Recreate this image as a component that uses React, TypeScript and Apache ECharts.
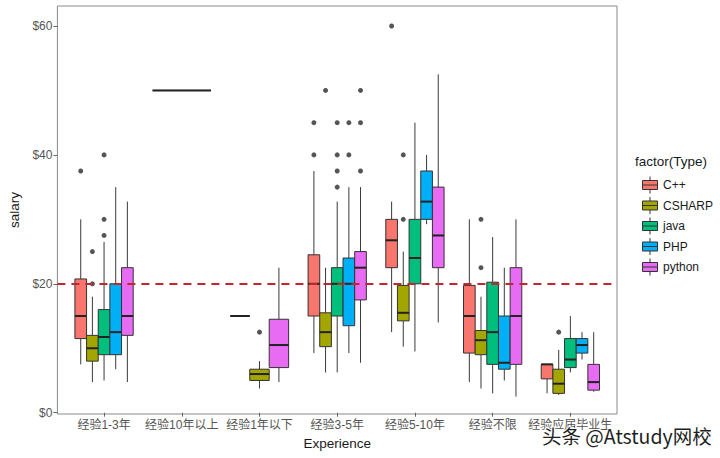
import React, { useEffect, useRef } from "react";
import * as echarts from "echarts";

const categories = ["经验1-3年", "经验10年以上", "经验1年以下", "经验3-5年", "经验5-10年", "经验不限", "经验应届毕业生"];
const types = ["C++", "CSHARP", "java", "PHP", "python"];
const typeColors = ["#F8766D", "#A3A500", "#00BF7D", "#00B0F6", "#E76BF3"];

// [min, q1, median, q3, max] per category (null = type absent)
const cppBox = [[7.5, 11.5, 15, 20.75, 30], [50, 50, 50, 50, 50], [15, 15, 15, 15, 15], [9.25, 15, 20, 24.5, 37.5], [12.5, 22.5, 26.75, 30, 32.75], [4.75, 9.25, 15, 19.75, 30], [3, 5.25, 7.5, 7.5, 7.5]];
const csharpBox = [[4.75, 8, 10, 12, 18], null, [3.75, 5, 6, 6.75, 8], [6.25, 10.25, 12.5, 15.5, 22.5], [10.25, 14.25, 15.5, 19.75, 25], [3.75, 9, 11.25, 12.75, 18], [2.75, 3, 4.5, 6.75, 9.75]];
const javaBox = [[5, 9, 11.75, 16, 26.5], null, null, [6.25, 15, 20, 22.5, 32.75], [9.5, 20, 24, 30, 45], [3, 7.5, 12.5, 20.25, 27.25], [6.25, 7, 8.25, 11.5, 15]];
const phpBox = [[6.75, 9, 12.5, 20, 35], null, null, [9.25, 13.5, 20, 24, 35], [29.25, 30, 32.75, 37.5, 40], [5, 6.75, 7.75, 15, 22.5], [8.25, 9.25, 10.5, 11.5, 12.5]];
const pythonBox = [[4.75, 12, 15, 22.5, 32.75], null, [4.75, 7, 10.5, 14.5, 22.5], [7.75, 17.5, 22.5, 25, 35], [14, 22.5, 27.5, 35, 52.5], [2.5, 7.5, 15, 22.5, 30], [3.25, 3.5, 4.75, 7.5, 12.5]];

// outliers: [categoryIndex, value]
const cppOut = [[0, 37.5], [3, 40], [3, 45], [4, 60]];
const csharpOut = [[0, 25], [0, 20], [2, 12.5], [3, 50], [4, 40], [4, 30], [5, 30], [5, 22.5], [6, 12.5]];
const javaOut = [[0, 40], [0, 30], [0, 27.5], [3, 45], [3, 40], [3, 37.5], [3, 35]];
const phpOut = [[3, 45], [3, 40]];
const pythonOut = [[3, 50], [3, 45], [3, 37.5]];

const yTicks = [0, 20, 40, 60];
const refLine = 20;

const boxes = [cppBox, csharpBox, javaBox, phpBox, pythonBox];
const outs = [cppOut, csharpOut, javaOut, phpOut, pythonOut];

const FONT = '"Liberation Sans", Arial, "Noto Sans CJK SC", sans-serif';
const DODGE = 0.75;

function slotInfo(cat: number, t: number) {
  const present = types.map((_, i) => i).filter((i) => boxes[i][cat] != null);
  return { slot: present.indexOf(t), n: present.length };
}

function renderItem(params: any, api: any) {
  const x = api.value(0);
  const slot = api.value(6);
  const n = api.value(7);
  const unit = api.size([1, 0])[0];
  const gw = DODGE * unit;
  const bw = gw / n;
  const cx = api.coord([x, 0])[0];
  const left = cx - gw / 2 + slot * bw;
  const mid = left + bw / 2;
  const y = (v: number) => api.coord([x, v])[1];
  const mn = api.value(1), q1 = api.value(2), md = api.value(3), q3 = api.value(4), mx = api.value(5);
  const color = api.visual("color");
  return {
    type: "group",
    children: [
      { type: "line", shape: { x1: mid, y1: y(q3), x2: mid, y2: y(mx) }, style: { stroke: "#3a3a3a", lineWidth: 1 } },
      { type: "line", shape: { x1: mid, y1: y(q1), x2: mid, y2: y(mn) }, style: { stroke: "#3a3a3a", lineWidth: 1 } },
      { type: "rect", shape: { x: left, y: y(q3), width: bw, height: y(q1) - y(q3) }, style: { fill: color, stroke: "#333", lineWidth: 1 } },
      { type: "line", shape: { x1: left, y1: y(md), x2: left + bw, y2: y(md) }, style: { stroke: "#222", lineWidth: 2 } },
    ],
  };
}

export default function App() {
  const ref = useRef<HTMLDivElement>(null);
  useEffect(() => {
    if (!ref.current) return;
    const chart = echarts.init(ref.current, null, { renderer: "svg" });

    const boxSeries = types.map((name, t) => ({
      type: "custom",
      name,
      renderItem,
      itemStyle: { color: typeColors[t] },
      encode: { x: 0, y: [1, 2, 3, 4, 5] },
      data: boxes[t]
        .map((b, cat) => {
          if (!b) return null;
          const { slot, n } = slotInfo(cat, t);
          return [cat + 1, ...b, slot, n];
        })
        .filter((d) => d != null),
      z: 2,
    }));

    const outlierData: number[][] = [];
    outs.forEach((list, t) => {
      list.forEach(([cat, v]) => {
        const { slot, n } = slotInfo(cat, t);
        const xPos = cat + 1 - DODGE / 2 + ((slot + 0.5) * DODGE) / n;
        outlierData.push([xPos, v]);
      });
    });

    chart.setOption({
      animation: false,
      grid: { left: 52, right: 103, top: 6, bottom: 44, show: true, borderColor: "#8a8a8a", borderWidth: 1, backgroundColor: "#fff" },
      xAxis: {
        type: "value",
        min: 0.4,
        max: 7.6,
        name: "Experience",
        nameLocation: "middle",
        nameGap: 23,
        nameTextStyle: { color: "#1a1a1a", fontSize: 13.5, fontFamily: FONT },
        axisLine: { show: false },
        splitLine: { show: false },
        axisTick: { show: true, length: 4, customValues: [1, 2, 3, 4, 5, 6, 7], lineStyle: { color: "#666" } },
        axisLabel: {
          customValues: [1, 2, 3, 4, 5, 6, 7],
          formatter: (v: number) => categories[Math.round(v) - 1] || "",
          color: "#555",
          fontSize: 12,
          margin: 5,
          fontFamily: FONT,
        },
      },
      yAxis: {
        type: "value",
        min: -0.2,
        max: 63.1,
        name: "salary",
        nameLocation: "middle",
        nameGap: 34,
        nameRotate: 90,
        nameTextStyle: { color: "#1a1a1a", fontSize: 13.5, fontFamily: FONT },
        axisLine: { show: false },
        splitLine: { show: false },
        axisTick: { show: true, length: 4, customValues: yTicks, lineStyle: { color: "#666" } },
        axisLabel: {
          customValues: yTicks,
          formatter: (v: number) => "$" + v,
          color: "#555",
          fontSize: 12,
          margin: 5,
          fontFamily: FONT,
        },
      },
      legend: {
        orient: "vertical",
        left: 637,
        top: 171,
        itemWidth: 16,
        itemHeight: 17,
        itemGap: 2.5,
        itemTextGap: 4,
        data: types,
        icon: "path://M0,4L15,4L15,13L0,13ZM0,8.5L15,8.5M7.5,0L7.5,4M7.5,13L7.5,17",
        itemStyle: { borderColor: "#333", borderWidth: 1 },
        textStyle: { color: "#1a1a1a", fontSize: 12, fontFamily: FONT },
        selectedMode: false,
      },
      graphic: [
        { type: "text", left: 635, top: 155, style: { text: "factor(Type)", fontSize: 13.5, fill: "#1a1a1a", fontFamily: FONT } },
        {
          type: "text",
          left: 541,
          top: 425,
          z: 100,
          style: { text: "头条 @Atstudy网校", fontSize: 19.5, fill: "#1f1f1f", stroke: "#ffffff", lineWidth: 2, fontFamily: '"Noto Sans CJK SC", sans-serif' },
        },
      ],
      series: [
        ...boxSeries,
        {
          type: "scatter",
          name: "outliers",
          data: outlierData,
          symbolSize: 5,
          itemStyle: { color: "#2b2b2b" },
          z: 3,
          markLine: {
            silent: true,
            symbol: ["none", "none"],
            label: { show: false },
            lineStyle: { color: "#C0282D", type: [8, 6], width: 2 },
            data: [{ yAxis: refLine }],
            z: 10,
          },
        },
      ],
    });
    return () => chart.dispose();
  }, []);
  return <div ref={ref} style={{ position: "fixed", left: 0, top: 0, width: 720, height: 458, background: "#fff" }} />;
}
